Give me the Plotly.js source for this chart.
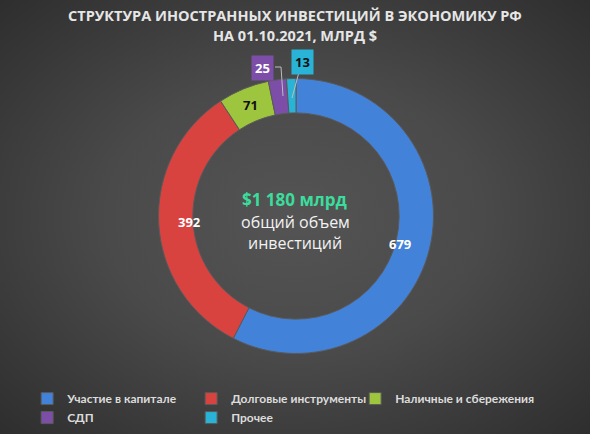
<!DOCTYPE html>
<html>
<head>
<meta charset="utf-8">
<script src="https://cdn.plot.ly/plotly-3.0.1.min.js"></script>
<style>
  html, body { margin: 0; padding: 0; }
  #chart {
    width: 590px; height: 434px;
    background: radial-gradient(ellipse at 50% 50%, #545454 0%, #4a4a4a 45%, #383838 80%, #2e2e2e 100%);
  }
</style>
</head>
<body>
<div id="chart"></div>
<script>
// Структура иностранных инвестиций, млрд $
const categories = ["Участие в капитале", "Долговые инструменты", "Наличные и сбережения", "СДП", "Прочее"];
const values = [679, 392, 71, 25, 13];
const colors = ["#4282d8", "#d9433f", "#9dc53d", "#7d4ea8", "#29b3d6"];
const textColors = ["#ffffff", "#ffffff", "#111111", "#ffffff", "#111111"];

const W = 590, H = 434;
// геометрия кольца (px)
const cx = 296, cy = 216, rOut = 137.5, hole = 0.75;
const rMid = rOut * (1 + hole) / 2;

const total = values.reduce((a, b) => a + b, 0);
const inside = values.map((v) => v / total > 0.04);

const trace = {
  type: "pie",
  labels: categories,
  values: values,
  sort: false,
  direction: "clockwise",
  rotation: 0,
  hole: hole,
  marker: {
    colors: colors,
    line: { color: "#5a5a5a", width: 1 },
  },
  textinfo: "none",
  domain: {
    x: [(cx - rOut) / W, (cx + rOut) / W],
    y: [(H - cy - rOut) / H, (H - cy + rOut) / H],
  },
  hoverinfo: "none",
};

// подписи внутри кольца: по середине угла сегмента
const insideLabels = [];
let cum = 0;
values.forEach((v, i) => {
  const a = ((cum + v / 2) / total) * 2 * Math.PI;
  cum += v;
  if (!inside[i]) return;
  insideLabels.push({
    xref: "paper", yref: "paper",
    x: (cx + rMid * Math.sin(a)) / W,
    y: (H - cy + rMid * Math.cos(a)) / H,
    yanchor: "middle",
    text: "<b>" + v + "</b>",
    showarrow: false,
    font: { family: "Open Sans", size: 13, color: textColors[i] },
  });
});

// подписи для мелких сегментов - в цветных рамках над кольцом
const boxPos = [null, null, null, { x: 262, y: 68 }, { x: 302, y: 62 }];
const boxLabels = [];
values.forEach((v, i) => {
  if (inside[i]) return;
  const p = boxPos[i];
  boxLabels.push({
    xref: "paper", yref: "paper",
    x: p.x / W, y: 1 - p.y / H, yanchor: "middle",
    text: "<b>" + v + "</b>",
    showarrow: false,
    bgcolor: colors[i],
    font: { family: "Open Sans", size: 13, color: textColors[i] },
    borderpad: 3,
  });
});

const centerText = [
  { text: "<b>$1 180 млрд</b>", y: 199, size: 17, color: "#3cdc9c" },
  { text: "общий объем", y: 222, size: 16, color: "#f2f2f2" },
  { text: "инвестиций", y: 243, size: 16, color: "#f2f2f2" },
].map((t) => ({
  xref: "paper", yref: "paper", x: 0.5, y: 1 - t.y / H, yanchor: "middle",
  text: t.text,
  showarrow: false,
  font: { family: "Open Sans", size: t.size, color: t.color },
}));

const titleLines = [
  { text: "<b>СТРУКТУРА ИНОСТРАННЫХ ИНВЕСТИЦИЙ В ЭКОНОМИКУ РФ</b>", y: 16 },
  { text: "<b>НА 01.10.2021, МЛРД $</b>", y: 36 },
].map((t) => ({
  xref: "paper", yref: "paper", x: 0.5, y: 1 - t.y / H, yanchor: "middle",
  text: t.text,
  showarrow: false,
  font: { family: "Open Sans", size: 14.5, color: "#e6e6e6" },
}));

const layout = {
  width: W,
  height: H,
  paper_bgcolor: "rgba(0,0,0,0)",
  plot_bgcolor: "rgba(0,0,0,0)",
  margin: { l: 0, r: 0, t: 0, b: 0 },
  showlegend: true,
  legend: {
    orientation: "h",
    x: 0.046, xanchor: "left",
    y: 0.115, yanchor: "top",
    entrywidth: 119,
    itemwidth: 30,
    font: { family: "Lato", size: 12, color: "#dcdcdc", weight: "bold" },
    traceorder: "normal",
    bgcolor: "rgba(0,0,0,0)",
  },
  annotations: [...titleLines, ...centerText, ...insideLabels, ...boxLabels],
  shapes: [
    // выноски к рамкам
    { type: "path", xref: "paper", yref: "paper",
      path: `M ${275 / W} ${1 - 67 / H} L ${281 / W} ${1 - 67 / H} L ${283 / W} ${1 - 96 / H}`,
      line: { color: "#bdbdbd", width: 1 } },
    { type: "line", xref: "paper", yref: "paper",
      x0: 299 / W, y0: 1 - 72 / H, x1: 292 / W, y1: 1 - 98 / H,
      line: { color: "#bdbdbd", width: 1 } },
  ],
};

Plotly.newPlot("chart", [trace], layout, { displayModeBar: false, staticPlot: true }).then(() => {
  // последняя колонка легенды шире entrywidth - снимаем обрезку
  document.querySelectorAll("#chart .legend .scrollbox").forEach((el) => el.removeAttribute("clip-path"));
  document.querySelectorAll("#chart .legend").forEach((el) => el.removeAttribute("clip-path"));
});
</script>
</body>
</html>
